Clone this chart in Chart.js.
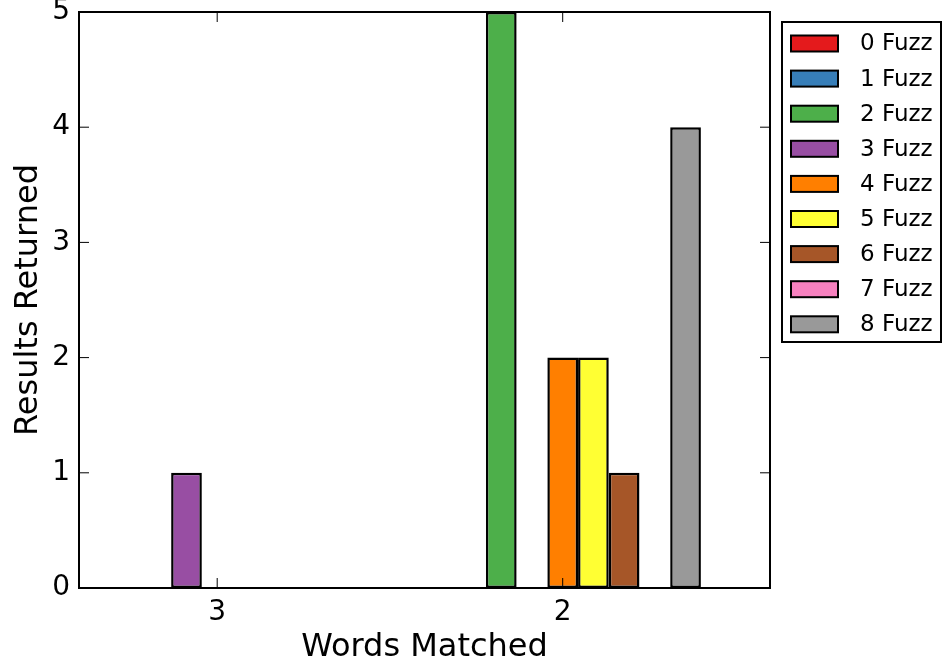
<!DOCTYPE html>
<html>
<head>
<meta charset="utf-8">
<script src="https://cdn.jsdelivr.net/npm/chart.js@4/dist/chart.umd.min.js"></script>
<style>
  body { margin: 0; background: #fff; }
</style>
</head>
<body>
<canvas id="chart" width="942" height="667"></canvas>
<script>
// data
const categories = ['3', '2'];
const categoryPos = [0.4, 1.4];
const seriesNames = ['0 Fuzz', '1 Fuzz', '2 Fuzz', '3 Fuzz', '4 Fuzz', '5 Fuzz', '6 Fuzz', '7 Fuzz', '8 Fuzz'];
const fuzz0 = [0, 0];
const fuzz1 = [0, 0];
const fuzz2 = [0, 5];
const fuzz3 = [1, 0];
const fuzz4 = [0, 2];
const fuzz5 = [0, 2];
const fuzz6 = [0, 1];
const fuzz7 = [0, 0];
const fuzz8 = [0, 4];
const seriesValues = [fuzz0, fuzz1, fuzz2, fuzz3, fuzz4, fuzz5, fuzz6, fuzz7, fuzz8];
const seriesColors = ['#e41a1c', '#377eb8', '#4daf4a', '#984ea3', '#ff7f00', '#ffff33', '#a65628', '#f781bf', '#999999'];
const yTicks = [0, 1, 2, 3, 4, 5];

const FONT = 'DejaVu Sans';

// 枠線、内向きの目盛り、凡例を描く
const framePlugin = {
  id: 'frame',
  afterDraw(chart) {
    const { ctx, chartArea: a, scales: { x, y } } = chart;
    const line = (x1, y1, x2, y2) => {
      ctx.beginPath(); ctx.moveTo(x1, y1); ctx.lineTo(x2, y2); ctx.stroke();
    };
    ctx.save();
    ctx.strokeStyle = '#000';
    ctx.lineWidth = 1;
    yTicks.forEach(v => {
      const py = y.getPixelForValue(v);
      line(a.left, py, a.left + 10, py);
      line(a.right - 10, py, a.right, py);
    });
    categoryPos.forEach(v => {
      const px = x.getPixelForValue(v);
      line(px, a.bottom, px, a.bottom - 10);
      line(px, a.top, px, a.top + 10);
    });
    ctx.lineWidth = 2;
    ctx.strokeRect(a.left, a.top, a.right - a.left, a.bottom - a.top);

    // legend
    const lx = a.right + 12, ly = a.top + 10, lw = 159, lh = 320;
    ctx.fillStyle = '#fff';
    ctx.fillRect(lx, ly, lw, lh);
    ctx.strokeRect(lx, ly, lw, lh);
    ctx.font = '23px "' + FONT + '"';
    ctx.textBaseline = 'middle';
    ctx.textAlign = 'left';
    seriesNames.forEach((name, i) => {
      const cy = ly + 21.5 + i * 35.1;
      ctx.fillStyle = seriesColors[i];
      ctx.fillRect(lx + 9, cy - 8, 47, 16);
      ctx.lineWidth = 2;
      ctx.strokeRect(lx + 9, cy - 8, 47, 16);
      ctx.fillStyle = '#000';
      ctx.fillText(name, lx + 78, cy + 1);
    });
    ctx.restore();
  }
};

const ctx = document.getElementById('chart').getContext('2d');
new Chart(ctx, {
  type: 'bar',
  data: {
    datasets: seriesNames.map((name, i) => ({
      label: name,
      data: seriesValues[i].map((v, j) => ({ x: categoryPos[j], y: v })),
      backgroundColor: seriesColors[i],
      borderColor: '#000',
      borderWidth: 2.5,
      borderSkipped: false,
      categoryPercentage: 0.8,
      barPercentage: 1.0
    }))
  },
  options: {
    responsive: false,
    animation: false,
    layout: { padding: { top: 12, right: 172, left: 0, bottom: 0 } },
    plugins: {
      legend: { display: false },
      tooltip: { enabled: false }
    },
    scales: {
      x: {
        type: 'linear',
        min: 0,
        max: 2,
        offset: false,
        grid: { display: false, drawTicks: false, offset: false },
        border: { display: false },
        afterBuildTicks: scale => { scale.ticks = categoryPos.map(v => ({ value: v })); },
        afterFit: scale => {
          scale.height = 79;
          scale.paddingLeft = 0;
          scale.paddingRight = 0;
        },
        ticks: {
          padding: 8,
          color: '#000',
          font: { family: FONT, size: 28 },
          callback: value => {
            const idx = categoryPos.findIndex(p => Math.abs(p - value) < 1e-6);
            return idx >= 0 ? categories[idx] : '';
          }
        },
        title: {
          display: true,
          text: 'Words Matched',
          color: '#000',
          font: { family: FONT, size: 32 },
          padding: { top: 0, bottom: 0 }
        }
      },
      y: {
        min: 0,
        max: 5,
        grid: { display: false, drawTicks: false },
        border: { display: false },
        afterFit: scale => {
          scale.width = 79;
          scale.paddingTop = 0;
          scale.paddingBottom = 0;
        },
        ticks: {
          stepSize: 1,
          padding: 9,
          color: '#000',
          font: { family: FONT, size: 28 }
        },
        title: {
          display: true,
          text: 'Results Returned',
          color: '#000',
          font: { family: FONT, size: 32 },
          padding: { top: 9, bottom: 0 }
        }
      }
    }
  },
  plugins: [framePlugin]
});
</script>
</body>
</html>
